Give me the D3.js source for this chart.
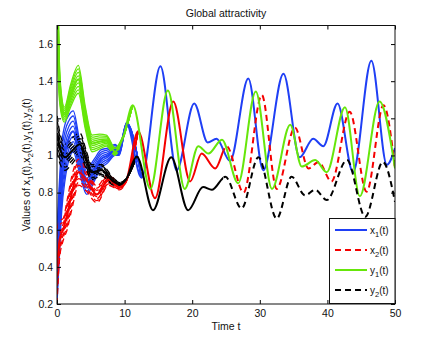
<!DOCTYPE html>
<html>
<head>
<meta charset="utf-8">
<script src="https://cdn.jsdelivr.net/npm/d3@7"></script>
<style>
  body { margin: 0; background: #fff; }
  svg { display: block; font-family: "Liberation Sans", Arial, sans-serif; }
</style>
</head>
<body>
<div id="chart"></div>
<script>
// knots: time, value, and half-width of the bundle of trajectories
const tX1 = [0, 0.3, 0.7, 1.2, 1.8, 2.4, 3.3, 4.4, 5.5, 6.5, 7.5, 8.6, 9.2, 10.3, 12.5, 15.3, 17.7, 20.3, 22.3, 23.6, 25.6, 28.3, 30.5, 33.5, 35.9, 37.9, 39.4, 41.5, 43.8, 46.5, 48.8, 50];
const x1 = [0.40, 0.62, 0.88, 1.02, 1.10, 1.13, 1.00, 0.86, 0.92, 0.98, 1.00, 1.03, 1.02, 1.17, 0.88, 1.48, 0.92, 1.28, 1.07, 1.09, 0.97, 1.415, 0.92, 1.44, 0.99, 1.09, 1.05, 1.28, 0.91, 1.51, 0.95, 1.04];
const x1Spread = [0.20, 0.20, 0.18, 0.15, 0.12, 0.11, 0.09, 0.07, 0.06, 0.05, 0.04, 0.03, 0.02, 0.008, 0];

const tX2 = [0, 0.4, 0.9, 1.5, 2.2, 3.2, 4.3, 5.9, 7.6, 9.2, 10.2, 12.0, 14.5, 17.2, 19.7, 21.4, 23.4, 25.1, 27.6, 30.3, 32.5, 35.2, 37.2, 38.7, 40.6, 43.3, 45.8, 48.3, 50];
const x2 = [0.40, 0.55, 0.60, 0.68, 0.80, 0.91, 0.87, 0.79, 0.87, 0.83, 0.86, 1.13, 0.77, 1.29, 0.86, 1.01, 0.93, 1.05, 0.80, 1.325, 0.82, 1.15, 0.93, 0.965, 0.86, 1.235, 0.805, 1.27, 0.93];
const x2Spread = [0.20, 0.10, 0.06, 0.08, 0.09, 0.07, 0.06, 0.045, 0.03, 0.015, 0.005, 0];

const tY1 = [0, 0.3, 0.6, 1.1, 2.0, 3.15, 4.2, 5.2, 6.3, 7.3, 8.6, 9.8, 11.2, 13.8, 16.4, 18.9, 20.9, 22.4, 24.4, 26.8, 29.4, 31.8, 34.5, 36.2, 38.2, 39.9, 42.6, 44.8, 47.7, 50];
const y1 = [1.90, 1.45, 1.29, 1.22, 1.32, 1.41, 1.20, 1.065, 1.075, 1.08, 1.02, 1.10, 1.27, 0.82, 1.35, 0.82, 1.05, 1.01, 1.085, 0.85, 1.345, 0.82, 1.165, 0.94, 0.975, 0.91, 1.26, 0.78, 1.29, 0.93];
const y1Spread = [0.30, 0.12, 0.06, 0.04, 0.06, 0.075, 0.06, 0.045, 0.04, 0.03, 0.02, 0.008, 0];

const tY2 = [0, 0.5, 1.2, 2.1, 3.4, 4.3, 5.1, 6.6, 8.3, 9.4, 10.2, 11.8, 14.2, 16.9, 19.4, 21.6, 22.9, 24.9, 27.3, 29.8, 32.5, 34.7, 36.7, 38.2, 39.9, 42.9, 45.6, 48.2, 50];
const y2 = [1.12, 1.03, 0.99, 1.02, 1.06, 0.98, 0.91, 0.92, 0.86, 0.845, 0.87, 0.995, 0.705, 0.99, 0.705, 0.83, 0.815, 0.885, 0.715, 0.99, 0.66, 0.885, 0.785, 0.815, 0.76, 0.975, 0.67, 0.965, 0.75];
const y2Spread = [0.10, 0.08, 0.07, 0.07, 0.06, 0.05, 0.04, 0.03, 0.02, 0.01, 0.004, 0];

// relative position of each initial condition inside its bundle
const copyWeights = [-1, -0.75, -0.5, -0.25, 0, 0.25, 0.5, 0.75, 1];

const xTicks = [0, 10, 20, 30, 40, 50];
const yTicks = [0.2, 0.4, 0.6, 0.8, 1, 1.2, 1.4, 1.6];
const seriesNames = [['x', '1'], ['x', '2'], ['y', '1'], ['y', '2']];

class AttractPlot {
  constructor() {
    this.width = 436;
    this.height = 343;
    this.left = 57;
    this.right = 395;
    this.top = 25.5;
    this.bottom = 304;
    this.dashFrom = 24.6;
  }

  /* ---
   * Draws the whole figure.
   */
  display(el, series) {
    this.el = el;
    this.series = series;

    this.x = d3.scaleLinear().domain([0, 50]).range([this.left, this.right]);
    this.y = d3.scaleLinear().domain([0.2, 1.7]).range([this.bottom, this.top]);

    this.createSvg();
    this.createLines();
    this.createAxes();
    this.createLegend();
    this.createLabels();
  }

  createSvg() {
    this.svg = d3.select(this.el).append('svg').attr('width', this.width).attr('height', this.height);

    const defs = this.svg.append('defs');
    const clip = (id, x0, x1) => {
      defs.append('clipPath').attr('id', id).append('rect')
          .attr('x', x0).attr('y', this.top).attr('width', x1 - x0).attr('height', this.bottom - this.top);
    };
    clip('plot', this.left, this.right);
    clip('before', this.left, this.x(this.dashFrom));
    clip('after', this.x(this.dashFrom), this.right);
  }

  /* ---
   * Helper: one bundle of trajectories per variable, then the common curve.
   */
  createLines() {
    const line = d3.line().x(d => this.x(d[0])).y(d => this.y(d[1])).curve(d3.curveMonotoneX);
    const g = this.svg.append('g').attr('clip-path', 'url(#plot)');

    this.series.forEach(s => {
      const n = s.spread.length;
      copyWeights.forEach((w, k) => {
        const pts = s.t.slice(0, n).map((t, i) => [t, s.v[i] + w * s.spread[i]]);
        g.append('path').attr('d', line(pts)).attr('fill', 'none')
         .attr('stroke', s.color).attr('stroke-width', 1.3)
         .attr('stroke-dasharray', s.dashed ? '6,4' : null)
         .attr('stroke-dashoffset', k * 1.1);
      });
    });

    this.series.forEach(s => {
      const pts = s.t.map((t, i) => [t, s.v[i]]);
      if (s.dashed) {
        g.append('path').attr('d', line(pts)).attr('fill', 'none').attr('clip-path', 'url(#before)')
         .attr('stroke', s.color).attr('stroke-width', 2);
        g.append('path').attr('d', line(pts)).attr('fill', 'none').attr('clip-path', 'url(#after)')
         .attr('stroke', s.color).attr('stroke-width', 2).attr('stroke-dasharray', '6,4');
      } else {
        g.append('path').attr('d', line(pts)).attr('fill', 'none')
         .attr('stroke', s.color).attr('stroke-width', 2);
      }
    });
  }

  createAxes() {
    const fmt = d => String(+d.toFixed(1));
    const font = g => g.selectAll('text').attr('font-size', 10.5).attr('fill', '#111');

    this.svg.append('g').attr('transform', `translate(0,${this.bottom})`)
        .call(d3.axisBottom(this.x).tickValues(xTicks).tickSize(-4).tickPadding(6).tickFormat(fmt))
        .call(g => g.select('.domain').remove()).call(font);
    this.svg.append('g').attr('transform', `translate(0,${this.top})`)
        .call(d3.axisTop(this.x).tickValues(xTicks).tickSize(-4).tickFormat(''))
        .call(g => g.select('.domain').remove());
    this.svg.append('g').attr('transform', `translate(${this.left},0)`)
        .call(d3.axisLeft(this.y).tickValues(yTicks).tickSize(-4).tickPadding(4).tickFormat(fmt))
        .call(g => g.select('.domain').remove()).call(font);
    this.svg.append('g').attr('transform', `translate(${this.right},0)`)
        .call(d3.axisRight(this.y).tickValues(yTicks).tickSize(-4).tickFormat(''))
        .call(g => g.select('.domain').remove());

    this.svg.append('rect')
        .attr('x', this.left).attr('y', this.top)
        .attr('width', this.right - this.left).attr('height', this.bottom - this.top)
        .attr('fill', 'none').attr('stroke', '#111').attr('stroke-width', 1);
  }

  /* ---
   * Helper: writes "x" with a subscript followed by "(t)".
   */
  subText(text, name, size) {
    text.append('tspan').text(name[0]);
    text.append('tspan').attr('dy', 3).attr('font-size', size * 0.75).text(name[1]);
    text.append('tspan').attr('dy', -3).text('(t)');
  }

  createLegend() {
    const lg = this.svg.append('g');
    lg.append('rect').attr('x', 329.5).attr('y', 218.5).attr('width', 65.5).attr('height', 85)
      .attr('fill', '#fff').attr('stroke', '#111').attr('stroke-width', 1);

    this.series.forEach((s, i) => {
      const yy = 230 + i * 20;
      lg.append('line').attr('x1', 335).attr('x2', 367).attr('y1', yy).attr('y2', yy)
        .attr('stroke', s.color).attr('stroke-width', 2)
        .attr('stroke-dasharray', s.dashed ? '6,4' : null);
      const t = lg.append('text').attr('x', 370).attr('y', yy + 3.5).attr('font-size', 10).attr('fill', '#111');
      this.subText(t, seriesNames[i], 10);
    });
  }

  createLabels() {
    const mid = (this.left + this.right) / 2;
    this.svg.append('text').attr('x', mid).attr('y', 17).attr('text-anchor', 'middle')
        .attr('font-size', 10.5).attr('fill', '#111').text('Global attractivity');
    this.svg.append('text').attr('x', mid).attr('y', 330).attr('text-anchor', 'middle')
        .attr('font-size', 10.5).attr('fill', '#111').text('Time t');

    const yl = this.svg.append('text')
        .attr('transform', `translate(29.5,${(this.top + this.bottom) / 2}) rotate(-90)`)
        .attr('text-anchor', 'middle').attr('font-size', 10.5).attr('fill', '#111');
    yl.append('tspan').text('Values of ');
    seriesNames.forEach((n, i) => {
      this.subText(yl, n, 10.5);
      if (i < seriesNames.length - 1) yl.append('tspan').text(',');
    });
  }
}

const series = [
  { t: tX1, v: x1, spread: x1Spread, color: '#1f3ff5', dashed: false },
  { t: tX2, v: x2, spread: x2Spread, color: '#f50000', dashed: true },
  { t: tY1, v: y1, spread: y1Spread, color: '#66e60a', dashed: false },
  { t: tY2, v: y2, spread: y2Spread, color: '#000000', dashed: true }
];

new AttractPlot().display('#chart', series);
</script>
</body>
</html>
